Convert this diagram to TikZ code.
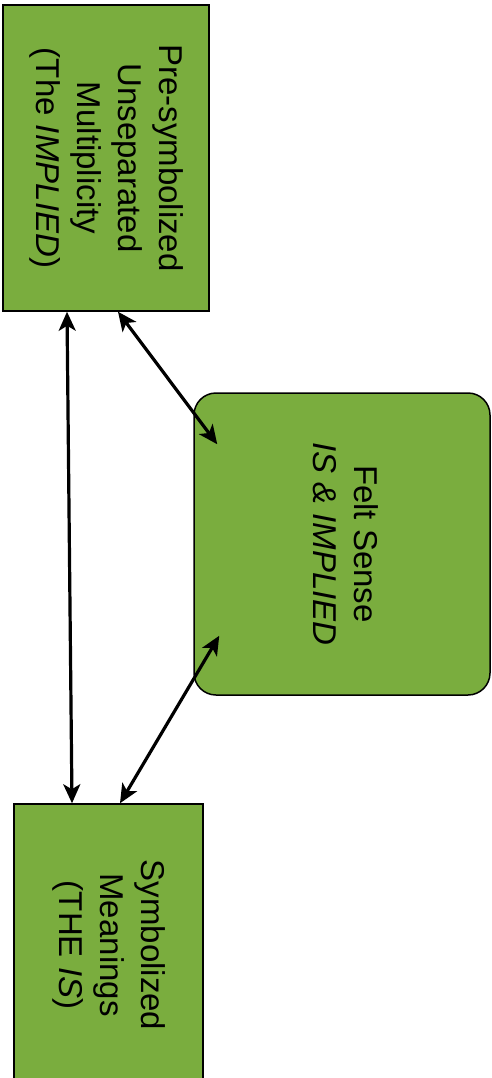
\documentclass[tikz,border=0pt]{standalone}
\usepackage{fontspec}
\setmainfont{Liberation Sans}
\usepackage{graphicx}
\usetikzlibrary{arrows.meta}
\definecolor{boxgreen}{RGB}{122,173,62}
\tikzset{
  box/.style={draw=black, line width=1.5pt, fill=boxgreen, inner sep=0pt, anchor=center},
  boxtext/.style={font=\fontsize{33}{41}\selectfont, inner sep=0pt},
  link/.style={line width=3.2pt, {Stealth[length=19pt,width=17pt,inset=5pt]}-{Stealth[length=19pt,width=17pt,inset=5pt]}}
}
\newcommand{\rotlabel}[1]{\rotatebox{-90}{\begin{tabular}{@{}c@{}}#1\end{tabular}}}
\begin{document}
\begin{tikzpicture}[x=1pt,y=1pt]
\useasboundingbox (0,0) rectangle (492,-1078);
\node[box, minimum width=206pt, minimum height=306pt,
  label={[boxtext]center:\rotlabel{Pre-symbolized\\Unseparated\\Multiplicity\\(The \textit{IMPLIED})}}] (top) at (106,-158) {};
\node[box, rounded corners=22pt, minimum width=296pt, minimum height=302pt,
  label={[boxtext]center:\rotlabel{Felt Sense\\\textit{IS \& IMPLIED}}}] (felt) at (342,-544) {};
\node[box, minimum width=189pt, minimum height=282pt,
  label={[boxtext]center:\rotlabel{Symbolized\\Meanings\\(THE \textit{IS})}}] (bottom) at (108.5,-945) {};
\draw[link] ([xshift=-39pt]top.south) -- ([xshift=-36.5pt]bottom.north);
\draw[link] ([xshift=12pt]top.south) -- ([shift={(24,-52)}]felt.north west);
\draw[link] ([xshift=11.5pt]bottom.north) -- ([shift={(26,60)}]felt.south west);
\end{tikzpicture}
\end{document}
